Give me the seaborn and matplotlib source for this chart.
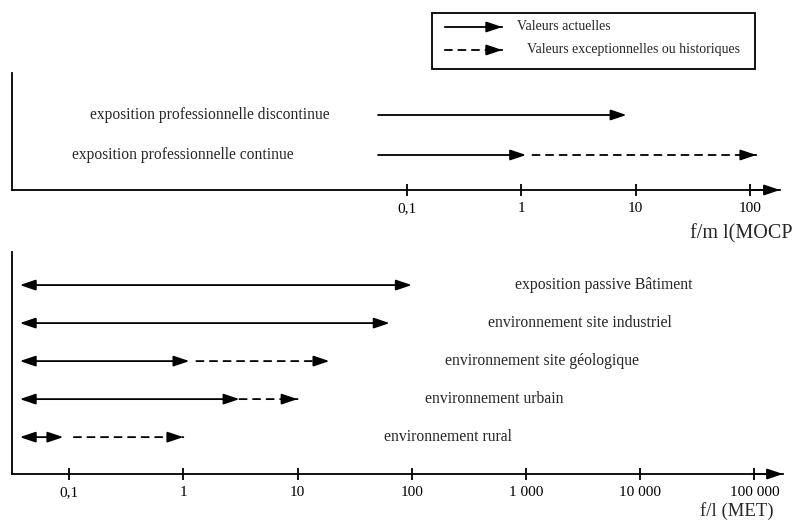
import numpy as np
import matplotlib
matplotlib.use('Agg')
import matplotlib.pyplot as plt
import matplotlib.transforms as mtrans
from matplotlib.patches import Rectangle, FancyArrowPatch
import seaborn as sns

# Occupational exposure (f/ml, MOCP)
top_labels = ['exposition professionnelle continue', 'exposition professionnelle discontinue']
top_start = [0.056, 0.056]
top_actual_end = [1.1, 8.3]
top_hist_start = [1.25, np.nan]
top_hist_end = [113, np.nan]
top_ticks = [0.1, 1, 10, 100]
top_ticklabels = ['0,1', '1', '10', '100']

# Environmental exposure (f/l, MET)
bot_labels = ['environnement rural', 'environnement urbain', 'environnement site géologique',
              'environnement site industriel', 'exposition passive Bâtiment']
bot_start = [0.037, 0.037, 0.037, 0.037, 0.037]
bot_actual_end = [0.089, 3.1, 1.13, 64, 100]
bot_hist_start = [0.11, 3.1, 1.3, np.nan, np.nan]
bot_hist_end = [1.0, 10, 19, np.nan, np.nan]
bot_ticks = [0.1, 1, 10, 100, 1000, 10000, 100000]
bot_ticklabels = ['0,1', '1', '10', '100', '1 000', '10 000', '100 000']

sns.set_theme(style='white')
plt.rcParams['font.family'] = ['Liberation Serif', 'DejaVu Serif']

W, H = 796, 521
fig = plt.figure(figsize=(W / 100, H / 100), dpi=100)
ax_top = fig.add_axes([12 / W, 1 - 190 / H, 768 / W, 117 / H])
ax_bot = fig.add_axes([12 / W, 1 - 474 / H, 771 / W, 222 / H])

head = '-|>,head_length=0.95,head_width=0.32'
both = '<|-|>,head_length=0.95,head_width=0.32'
dash = (0, (4, 3.5))
LW = 1.3


def arrow(ax, x0, x1, y, style=head, coords='data'):
    ax.annotate('', xy=(x1, y), xytext=(x0, y), xycoords=coords, textcoords=coords,
                arrowprops=dict(arrowstyle=style, color='black', lw=LW,
                                shrinkA=0, shrinkB=0, mutation_scale=10),
                annotation_clip=False)


def dashed_arrow(ax, x0, x1, y):
    # dashed shaft, then a solid filled head at the end
    ax.annotate('', xy=(x1, y), xytext=(x0, y),
                arrowprops=dict(arrowstyle='-', color='black', lw=LW, linestyle=dash,
                                shrinkA=0, shrinkB=0))
    ax.annotate('', xy=(x1, y), xytext=(-6, 0), textcoords='offset points',
                arrowprops=dict(arrowstyle=head, color='black', lw=LW,
                                shrinkA=0, shrinkB=0, mutation_scale=10))


def style_axis(ax, ticks, ticklabels):
    ax.set_xscale('log')
    ax.set_xticks(ticks)
    ax.set_xticklabels(ticklabels)
    ax.xaxis.set_minor_locator(matplotlib.ticker.NullLocator())
    ax.set_yticks([])
    sns.despine(ax=ax)
    for s in ['left', 'bottom']:
        ax.spines[s].set_linewidth(LW)
        ax.spines[s].set_color('black')
    ax.tick_params(axis='x', direction='inout', length=9, width=LW, labelsize=11,
                   pad=4, colors='black', bottom=True)
    ax.patch.set_alpha(0)
    # arrow at the end of the x axis
    arrow(ax, 0.96, 1.0, 0, coords='axes fraction')


# top panel
style_axis(ax_top, top_ticks, top_ticklabels)
ax_top.set_xlim(10 ** -4.45, 10 ** 2.26)
ax_top.set_ylim(0.125, 3.05)
for i, lab in enumerate(top_labels):
    y = i + 1
    arrow(ax_top, top_start[i], top_actual_end[i], y)
    if not np.isnan(top_hist_end[i]):
        dashed_arrow(ax_top, top_hist_start[i], top_hist_end[i], y)
top_text_x = [0.223, 0.258]
trans = mtrans.blended_transform_factory(ax_top.transAxes, ax_top.transData)
for i, lab in enumerate(top_labels):
    ax_top.text(top_text_x[i], i + 1, lab, transform=trans, ha='center', va='center',
                fontsize=11.2)
ax_top.set_xlabel('f/m l(MOCP', fontsize=14.5, ha='right', va='top')
ax_top.xaxis.set_label_coords(1.016, -0.29)

# bottom panel
style_axis(ax_bot, bot_ticks, bot_ticklabels)
ax_bot.set_xlim(10 ** -1.5, 10 ** 5.25)
ax_bot.set_ylim(0.03, 5.87)
for i, lab in enumerate(bot_labels):
    y = i + 1
    arrow(ax_bot, bot_start[i], bot_actual_end[i], y, style=both)
    if not np.isnan(bot_hist_end[i]):
        dashed_arrow(ax_bot, bot_hist_start[i], bot_hist_end[i], y)
bot_text_x = [0.565, 0.626, 0.688, 0.737, 0.768]
trans = mtrans.blended_transform_factory(ax_bot.transAxes, ax_bot.transData)
for i, lab in enumerate(bot_labels):
    ax_bot.text(bot_text_x[i], i + 1, lab, transform=trans, ha='center', va='center',
                fontsize=11.3)
ax_bot.set_xlabel('f/l (MET)', fontsize=13.5, ha='right', va='top')
ax_bot.xaxis.set_label_coords(0.988, -0.125)

# legend box
fig.patches.append(Rectangle((432 / W, 1 - 69 / H), 323 / W, 56 / H, transform=fig.transFigure,
                             fill=False, edgecolor='black', lw=LW))
for row, (txt, ls, tx) in enumerate([('Valeurs actuelles', '-', 517),
                                     ('Valeurs exceptionnelles ou historiques', dash, 527)]):
    yy = 1 - (27 + 23 * row) / H
    fig.add_artist(FancyArrowPatch((442 / W, yy), (505 / W, yy), transform=fig.transFigure,
                                   arrowstyle='-', color='black', lw=LW, linestyle=ls))
    fig.add_artist(FancyArrowPatch((495 / W, yy), (505 / W, yy), transform=fig.transFigure,
                                   arrowstyle=head, color='black', lw=LW, mutation_scale=10))
    fig.text(tx / W, yy, txt, ha='left', va='center', fontsize=10)

fig.savefig('out.png', dpi=100, facecolor='white')
